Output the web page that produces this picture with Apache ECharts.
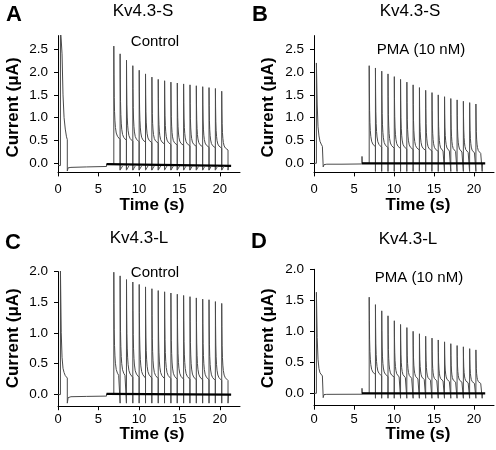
<!DOCTYPE html>
<html><head><meta charset="utf-8">
<script src="https://cdn.jsdelivr.net/npm/echarts@6/dist/echarts.min.js"></script>
<style>html,body{margin:0;padding:0;background:#fff}#c{width:496px;height:450px}</style>
</head><body><div id="c"></div>
<script>
// ---------- text ----------
const panelLetters = ['A', 'B', 'C', 'D'];
const panelTitles = ['Kv4.3-S', 'Kv4.3-S', 'Kv4.3-L', 'Kv4.3-L'];
const conditionLabels = ['Control', 'PMA (10 nM)', 'Control', 'PMA (10 nM)'];
const xAxisTitle = 'Time (s)';
const yAxisTitle = 'Current (\u03bcA)';

// ---------- ticks ----------
const xTicks = [0, 5, 10, 15, 20];
const yTicksS = [0, 0.5, 1.0, 1.5, 2.0, 2.5];
const yTicksL = [0, 0.5, 1.0, 1.5, 2.0];

// ---------- prepulse + holding segment (time in s, current in uA) ----------
const prepulseTimes = [0.02, 0.3, 0.3, 0.4, 0.5, 0.62, 0.75, 0.9, 1.05, 1.15, 1.15, 1.25, 1.6, 3.5, 6.0, 6.0, 6.02, 6.9];
const prepulseA = [-0.05, -0.05, 3.0, 3.0, 2.4, 1.5, 1.0, 0.75, 0.58, 0.52, -0.17, -0.1, -0.09, -0.08, -0.07, -0.02, -0.02, -0.02];
const prepulseB = [0.0, 0.0, 2.2, 1.3, 0.8, 0.6, 0.48, 0.42, 0.37, 0.34, -0.08, -0.03, -0.02, -0.02, -0.015, 0.15, 0.0, 0.0];
const prepulseC = [-0.01, -0.01, 2.05, 1.0, 0.6, 0.42, 0.35, 0.3, 0.28, 0.26, -0.15, -0.06, -0.045, -0.04, -0.035, 0.0, 0.0, 0.0];
const prepulseD = [0.0, 0.0, 1.63, 0.9, 0.55, 0.4, 0.33, 0.3, 0.28, 0.26, -0.07, -0.02, -0.017, -0.016, -0.015, 0.08, 0.0, 0.0];

// ---------- pulse train ----------
const pulseTimes = [6.9, 7.68, 8.47, 9.25, 10.04, 10.82, 11.61, 12.39, 13.18, 13.96, 14.75, 15.53, 16.32, 17.1, 17.89, 18.67, 19.46, 20.24];
const pulseDuration = 0.78;
// inactivation time course (offset s, fraction of peak-to-end)
const decayOffsets = [0, 0.02, 0.05, 0.09, 0.14, 0.2, 0.3, 0.45, 0.6, 0.78];
const decayFraction = [1, 0.7, 0.45, 0.3, 0.2, 0.13, 0.07, 0.035, 0.015, 0];

const peaksA = [2.57, 2.40, 2.26, 2.14, 2.04, 1.96, 1.89, 1.84, 1.81, 1.78, 1.76, 1.74, 1.72, 1.70, 1.68, 1.66, 1.64, 1.58];
const endsA  = [0.52, 0.50, 0.48, 0.47, 0.46, 0.45, 0.44, 0.42, 0.41, 0.40, 0.39, 0.38, 0.37, 0.36, 0.35, 0.34, 0.33, 0.29];
const peaksB = [2.14, 2.09, 2.02, 1.96, 1.90, 1.84, 1.78, 1.72, 1.66, 1.60, 1.55, 1.50, 1.46, 1.42, 1.39, 1.36, 1.33, 1.30];
const endsB  = [0.36, 0.35, 0.34, 0.33, 0.32, 0.31, 0.30, 0.29, 0.28, 0.27, 0.26, 0.25, 0.25, 0.24, 0.23, 0.22, 0.21, 0.20];
const peaksC = [1.99, 1.93, 1.87, 1.83, 1.79, 1.75, 1.72, 1.69, 1.67, 1.65, 1.63, 1.61, 1.59, 1.57, 1.55, 1.54, 1.51, 1.48];
const endsC  = [0.28, 0.28, 0.27, 0.27, 0.26, 0.26, 0.25, 0.25, 0.25, 0.24, 0.24, 0.24, 0.23, 0.23, 0.23, 0.22, 0.22, 0.22];
const peaksD = [1.55, 1.43, 1.33, 1.25, 1.17, 1.11, 1.06, 1.00, 0.96, 0.92, 0.89, 0.86, 0.83, 0.80, 0.77, 0.75, 0.72, 0.70];
const endsD  = [0.30, 0.28, 0.27, 0.26, 0.25, 0.24, 0.23, 0.22, 0.21, 0.20, 0.19, 0.19, 0.18, 0.17, 0.17, 0.16, 0.15, 0.15];

// tail dip after each pulse and holding level during the train
const tailDips = [-0.15, -0.18, -0.15, -0.08];
const trainBaseStart = [-0.02, 0.0, 0.0, 0.0];
const trainBaseEnd = [-0.055, 0.0, -0.01, 0.0];
const trainEndTime = 21.4;
const recoveryA = [-0.15, -0.06]; // tail-current recovery (panel A)
const recoveryTime = 0.3;

// ---------- layout ----------
const grids = [
  { left: 58, top: 35.6, width: 182, height: 136.8 },
  { left: 314, top: 35.6, width: 180, height: 136.8 },
  { left: 58, top: 271.6, width: 182, height: 134.6 },
  { left: 314, top: 269.3, width: 180, height: 136.4 }
];
const yMax = [2.8, 2.8, 2.0, 2.0];
const xLabelMargin = [11, 11, 7, 7];
const letterPos = [[14, 15], [260, 14.5], [13, 243], [259, 241.5]];
const titlePos = [[143, 11], [410, 11], [139, 238], [408, 239.5]];
const condPos = [[155, 42.3], [421, 50], [155, 272.5], [419, 278.3]];
const yNamePos = [[13.5, 107.5], [268.5, 107.5], [13.5, 338.3], [268.5, 338.3]];
const xNamePos = [[152, 205.5], [418, 205.5], [152, 434], [418, 434]];

function buildTrace(pre, peaks, ends, dip, endBase) {
  const pts = prepulseTimes.map((t, i) => [t, pre[i]]);
  pulseTimes.forEach((t0, i) => {
    decayOffsets.forEach((o, k) => {
      pts.push([t0 + o, ends[i] + (peaks[i] - ends[i]) * decayFraction[k]]);
    });
    pts.push([t0 + pulseDuration, dip]);
  });
  const last = pulseTimes[pulseTimes.length - 1] + pulseDuration;
  pts.push([last + 0.05, endBase]);
  return pts;
}
function buildRecovery(rec) {
  const pts = [];
  pulseTimes.forEach((t0, i) => {
    if (i === pulseTimes.length - 1) return;
    pts.push([t0 + pulseDuration, rec[0]]);
    pts.push([t0 + pulseDuration + recoveryTime, rec[1]]);
    pts.push([t0 + pulseDuration + recoveryTime, '-']);
  });
  return pts;
}

const pre = [prepulseA, prepulseB, prepulseC, prepulseD];
const peaks = [peaksA, peaksB, peaksC, peaksD];
const ends = [endsA, endsB, endsC, endsD];

const FONT = 'Arial, "Liberation Sans", Helvetica, sans-serif';
const chart = echarts.init(document.getElementById('c'), null, { renderer: 'canvas' });

const xAxes = [], yAxes = [], series = [], graphics = [];
for (let i = 0; i < 4; i++) {
  xAxes.push({
    type: 'value', gridIndex: i, min: 0, max: 22.5,
    axisLine: { show: true, onZero: false, lineStyle: { color: '#000', width: 1 } },
    axisTick: { show: true, customValues: xTicks, length: 4, inside: false, lineStyle: { color: '#000' } },
    axisLabel: { customValues: xTicks, color: '#000', fontSize: 13, fontFamily: FONT, margin: xLabelMargin[i] },
    splitLine: { show: false }
  });
  const yt = i < 2 ? yTicksS : yTicksL;
  yAxes.push({
    type: 'value', gridIndex: i, min: -0.2, max: yMax[i],
    axisLine: { show: true, onZero: false, lineStyle: { color: '#000', width: 1 } },
    axisTick: { show: true, customValues: yt, length: 4, lineStyle: { color: '#000' } },
    axisLabel: { customValues: yt, color: '#000', fontSize: 13.5, fontFamily: FONT, margin: 10,
      formatter: v => v.toFixed(1) },
    splitLine: { show: false }
  });
  series.push({
    type: 'line', xAxisIndex: i, yAxisIndex: i, showSymbol: false, symbol: 'none',
    clip: true, animation: false, silent: true,
    lineStyle: { color: '#4a4a4a', width: 1 },
    data: buildTrace(pre[i], peaks[i], ends[i], tailDips[i], trainBaseEnd[i])
  });
  series.push({
    type: 'line', xAxisIndex: i, yAxisIndex: i, showSymbol: false, symbol: 'none',
    clip: true, animation: false, silent: true,
    lineStyle: { color: '#000', width: 2.2 },
    data: [[prepulseTimes[prepulseTimes.length - 3], trainBaseStart[i]], [trainEndTime, trainBaseEnd[i]]]
  });
  if (i === 0) {
    series.push({
      type: 'line', xAxisIndex: i, yAxisIndex: i, showSymbol: false, symbol: 'none',
      clip: true, animation: false, silent: true, connectNulls: false,
      lineStyle: { color: '#555', width: 1 },
      data: buildRecovery(recoveryA)
    });
  }
  graphics.push({ type: 'text', x: letterPos[i][0], y: letterPos[i][1],
    style: { text: panelLetters[i], font: 'bold 22px ' + FONT, fill: '#000', textAlign: 'center', textVerticalAlign: 'middle' } });
  graphics.push({ type: 'text', x: titlePos[i][0], y: titlePos[i][1],
    style: { text: panelTitles[i], font: '17px ' + FONT, fill: '#000', textAlign: 'center', textVerticalAlign: 'middle' } });
  graphics.push({ type: 'text', x: condPos[i][0], y: condPos[i][1],
    style: { text: conditionLabels[i], font: '15px ' + FONT, fill: '#000', textAlign: 'center', textVerticalAlign: 'middle' } });
  graphics.push({ type: 'text', x: yNamePos[i][0], y: yNamePos[i][1], rotation: Math.PI / 2,
    style: { text: yAxisTitle, font: 'bold 17px ' + FONT, fill: '#000', textAlign: 'center', textVerticalAlign: 'middle' } });
  graphics.push({ type: 'text', x: xNamePos[i][0], y: xNamePos[i][1],
    style: { text: xAxisTitle, font: 'bold 17px ' + FONT, fill: '#000', textAlign: 'center', textVerticalAlign: 'middle' } });
}

chart.setOption({
  animation: false,
  backgroundColor: '#fff',
  grid: grids,
  xAxis: xAxes,
  yAxis: yAxes,
  series: series,
  graphic: graphics
});
</script>
</body></html>
